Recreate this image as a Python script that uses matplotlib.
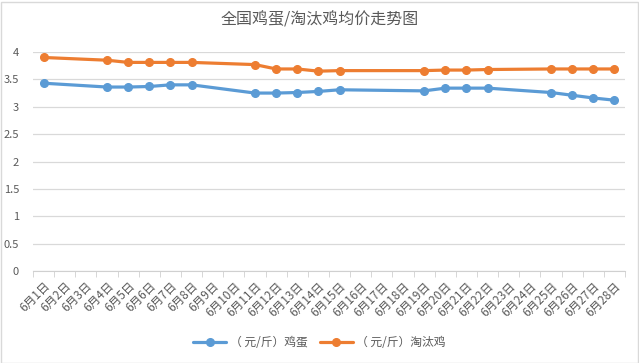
import matplotlib
matplotlib.use("Agg")
import matplotlib.pyplot as plt
from matplotlib.patches import Rectangle

plt.rcParams['font.family'] = ['Noto Sans CJK SC', 'DejaVu Sans']

# all category labels on the x axis
days = ["6月%d日" % d for d in range(1, 29)]
# days that actually have prices
data_days = [1, 4, 5, 6, 7, 8, 11, 12, 13, 14, 15, 19, 20, 21, 22, 25, 26, 27, 28]
egg = [3.43, 3.36, 3.36, 3.37, 3.40, 3.40, 3.25, 3.25, 3.26, 3.28, 3.31,
       3.29, 3.34, 3.34, 3.34, 3.26, 3.21, 3.16, 3.12]
hen = [3.90, 3.85, 3.81, 3.81, 3.81, 3.81, 3.77, 3.69, 3.69, 3.65, 3.66,
       3.66, 3.67, 3.67, 3.68, 3.69, 3.69, 3.69, 3.69]
yticks = [0, 0.5, 1, 1.5, 2, 2.5, 3, 3.5, 4]

grey = "#595959"
fig = plt.figure(figsize=(6.39, 3.63), dpi=100)
ax = fig.add_axes([33/639, 92/363, 592/639, 219/363])

x = [d - 1 for d in data_days]
ax.plot(x, egg, color="#5B9BD5", lw=2.3, marker="o", ms=5.5,
        label="（ 元/斤）鸡蛋", solid_capstyle="round")
ax.plot(x, hen, color="#ED7D31", lw=2.3, marker="o", ms=5.5,
        label="（ 元/斤）淘汰鸡", solid_capstyle="round")

ax.set_xlim(-0.5, 27.5)
ax.set_ylim(0, 4)
ax.set_yticks(yticks)
ax.set_yticklabels(["%g" % v for v in yticks])
ax.yaxis.grid(True, color="#d9d9d9", lw=0.9)
ax.set_axisbelow(True)
for s in ["top", "right", "left"]:
    ax.spines[s].set_visible(False)
ax.spines["bottom"].set_color("#d0d0d0")
ax.tick_params(axis="y", length=0, labelsize=8, labelcolor=grey, pad=10)

ax.set_xticks(range(28))
ax.set_xticklabels(days, rotation=45, ha="right", rotation_mode="anchor",
                   fontsize=8.5, color=grey)
ax.tick_params(axis="x", which="major", length=0, pad=6)
ax.set_xticks([i - 0.5 for i in range(29)], minor=True)
ax.tick_params(axis="x", which="minor", length=4, color="#d0d0d0")

fig.text(0.5, 1 - 20/363, "全国鸡蛋/淘汰鸡均价走势图", ha="center", va="center",
         fontsize=11.5, color=grey)
fig.legend(loc="center", bbox_to_anchor=(0.5, 1 - 343/363), ncol=2,
           frameon=False, fontsize=8.5, labelcolor=grey, handlelength=2.8,
           columnspacing=1.0, handletextpad=0.3)

fig.add_artist(Rectangle((0.5/639, 0.5/363), 637/639, 361/363,
                         transform=fig.transFigure, fill=False,
                         edgecolor="#d9d9d9", lw=1))

fig.savefig("out.png", dpi=100)
